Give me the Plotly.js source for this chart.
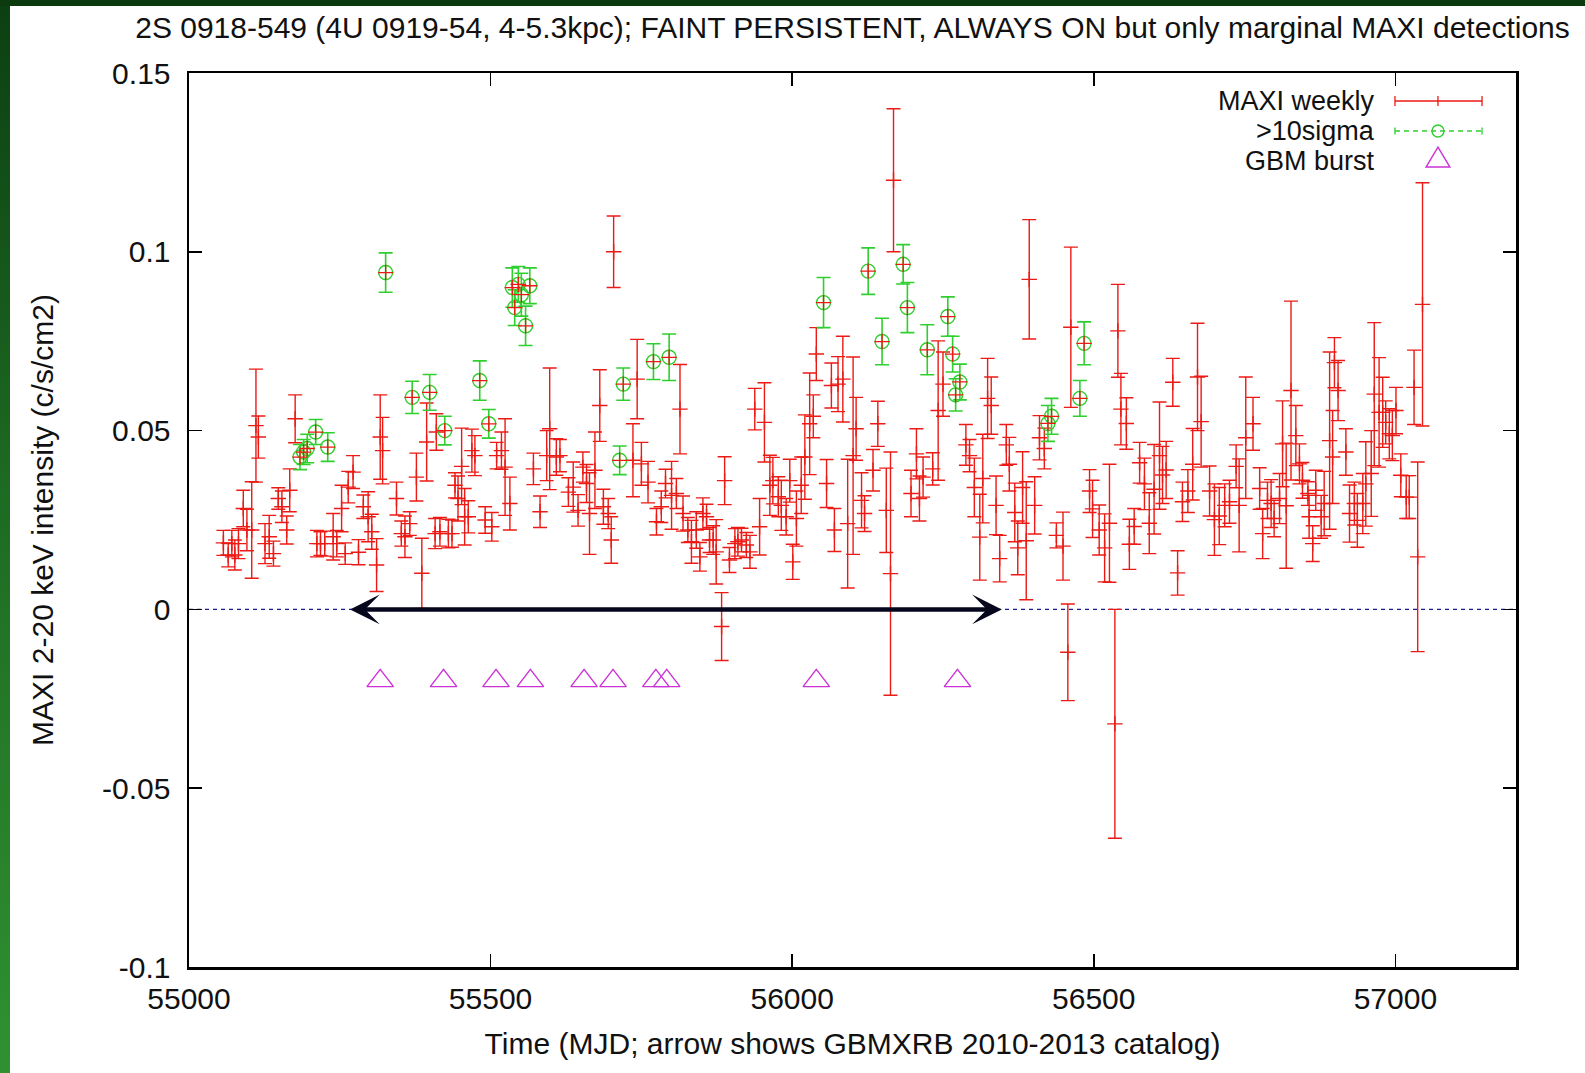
<!DOCTYPE html>
<html>
<head>
<meta charset="utf-8">
<script src="https://cdn.plot.ly/plotly-3.0.1.min.js"></script>
<style>
html,body{margin:0;padding:0;background:#ffffff;}
#chart{width:1585px;height:1073px;
background:
 linear-gradient(#0a3a0e,#0a3a0e) 0 0/100% 6px no-repeat,
 linear-gradient(to bottom,#0c3f12 0%,#1d6a22 45%,#2f9131 100%) 0 0/10px 100% no-repeat,
 #ffffff;}
</style>
</head>
<body>
<div id="chart"></div>
<script>
// ---- MAXI weekly light curve (MJD, intensity c/s/cm2, 1-sigma error) ----
const redMJD = [55057,55065,55071,55076,55082,55090,55096,55104,55111,55115,55126,55133,55140,55148,55154,55162,55167,55176,
55212,55218,55225,55239,55245,55253,55259,55264,55272,55281,55289,55297,55303,55311,55317,55321,
55344,55352,55358,55366,55377,55386,55394,55408,55410,55416,55430,55436,55441,55446,55452,55457,55463,55469,55474,
55491,55502,55510,55518,55524,55532,55571,55582,55593,55598,55609,55615,55629,55637,55645,55653,55659,55664,55673,55681,
55687,55695,55700,55704,55736,55743,55750,55761,55775,55783,55790,55800,55808,55814,55819,55827,55833,55841,55847,55852,
55858,55863,55869,55874,55883,55888,55896,55905,55910,55916,55924,55930,55938,55946,55954,55963,55968,55977,55982,55990,
55996,56001,56007,56015,56021,56029,56035,56040,56057,56065,56070,56076,56084,56092,56101,56106,56115,56120,56134,56142,
56156,56163,56168,56197,56206,56211,56217,56233,56242,56250,56288,56294,56302,56311,56316,56324,56330,56338,56344,56355,
56360,56369,56374,56382,56388,56393,56402,56410,56418,56438,56449,56457,56462,56493,56498,56509,56518,56526,56535,56540,
56545,56554,56559,56567,56576,56584,56592,56600,56609,56614,56620,56631,56639,56647,56656,56664,56672,56678,56692,56700,
56708,56717,56725,56736,56741,56752,56764,56775,56780,56788,56794,56799,56808,56813,56819,56827,56835,56841,56846,56855,
56857,56863,56868,56877,56882,56891,56896,56899,56905,56918,56924,56932,56937,56946,56951,56960,56965,56973,56979,56984,
56990,56995,57001,57009,57018,57023,57031,57037,57045];
const redFlux = [0.0186,0.0152,0.0184,0.0152,0.0184,0.0282,0.0222,0.0222,0.0514,0.0482,0.0184,0.0203,0.0156,0.0310,0.0287,0.0222,0.0333,0.0533,
0.0184,0.0184,0.0184,0.0203,0.0184,0.0282,0.0156,0.0342,0.0384,0.0160,0.0287,0.0259,0.0217,0.0124,0.0482,0.0444,
0.0310,0.0212,0.0203,0.0240,0.0370,0.0101,0.0468,0.0212,0.0496,0.0217,0.0212,0.0212,0.0347,0.0310,0.0400,0.0259,0.0259,0.0444,0.0430,
0.0250,0.0231,0.0430,0.0444,0.0398,0.0296,0.0393,0.0273,0.0430,0.0505,0.0426,0.0430,0.0328,0.0342,0.0277,0.0398,0.0352,0.0268,0.0389,0.0570,
0.0287,0.0268,0.0194,0.1000,0.0417,0.0644,0.0407,0.0356,0.0245,0.0287,0.0352,0.0319,0.0324,0.0560,0.0268,0.0222,0.0189,0.0222,0.0147,0.0268,
0.0259,0.0194,0.0194,0.0161,-0.0048,0.0360,0.0138,0.0184,0.0189,0.0194,0.0180,0.0161,0.0560,0.0231,0.0523,0.0347,0.0360,0.0315,0.0291,0.0259,
0.0360,0.0133,0.0254,0.0347,0.0426,0.0519,0.0540,0.0714,0.0352,0.0626,0.0222,0.0630,0.0644,0.0240,0.0430,0.0505,0.0305,0.0268,0.0389,0.0519,
0.0277,0.0100,0.1200,0.0324,0.0435,0.0310,0.0370,0.0393,0.0556,0.0630,0.0460,0.0430,0.0341,0.0202,0.0366,0.0590,0.0570,0.0291,0.0142,0.0460,
0.0406,0.0271,0.0172,0.0341,0.0192,0.0923,0.0291,0.0480,0.0450,0.0207,0.0177,-0.0120,0.0789,0.0331,0.0281,0.0222,0.0172,0.0241,-0.0320,0.0779,
0.0560,0.0520,0.0182,0.0232,0.0410,0.0351,0.0241,0.0336,0.0430,0.0376,0.0390,0.0635,0.0102,0.0301,0.0331,0.0406,0.0650,0.0525,0.0331,0.0251,
0.0261,0.0291,0.0301,0.0400,0.0291,0.0480,0.0519,0.0338,0.0212,0.0305,0.0296,0.0254,0.0310,0.0463,0.0290,0.0612,0.0486,0.0407,0.0361,0.0324,
0.0259,0.0184,0.0333,0.0259,0.0296,0.0472,0.0426,0.0690,0.0612,0.0440,0.0268,0.0296,0.0249,0.0296,0.0351,0.0380,0.0602,0.0551,0.0551,0.0523,
0.0491,0.0486,0.0556,0.0375,0.0314,0.0314,0.0621,0.0147,0.0853];
const redErr = [0.0035,0.0033,0.0037,0.0042,0.0042,0.0051,0.0058,0.0135,0.0158,0.0059,0.0056,0.0060,0.0035,0.0030,0.0044,0.0039,0.0060,0.0067,
0.0037,0.0033,0.0035,0.0065,0.0037,0.0065,0.0030,0.0044,0.0046,0.0035,0.0033,0.0070,0.0049,0.0074,0.0118,0.0093,
0.0046,0.0035,0.0058,0.0033,0.0067,0.0098,0.0109,0.0042,0.0051,0.0040,0.0040,0.0038,0.0035,0.0063,0.0107,0.0079,0.0045,0.0060,0.0056,
0.0037,0.0040,0.0037,0.0052,0.0135,0.0074,0.0044,0.0044,0.0070,0.0170,0.0051,0.0045,0.0040,0.0070,0.0044,0.0042,0.0053,0.0114,0.0107,0.0100,
0.0049,0.0042,0.0065,0.0100,0.0102,0.0111,0.0060,0.0058,0.0037,0.0044,0.0040,0.0095,0.0042,0.0125,0.0049,0.0035,0.0060,0.0051,0.0040,0.0044,
0.0035,0.0035,0.0040,0.0090,0.0095,0.0067,0.0035,0.0042,0.0040,0.0033,0.0035,0.0046,0.0058,0.0079,0.0111,0.0084,0.0065,0.0056,0.0070,0.0051,
0.0060,0.0049,0.0077,0.0079,0.0118,0.0142,0.0060,0.0074,0.0067,0.0063,0.0060,0.0077,0.0120,0.0180,0.0276,0.0088,0.0077,0.0050,0.0058,0.0063,
0.0118,0.0340,0.0200,0.0065,0.0070,0.0063,0.0056,0.0045,0.0195,0.0090,0.0057,0.0045,0.0082,0.0120,0.0124,0.0112,0.0080,0.0082,0.0065,0.0057,
0.0075,0.0082,0.0075,0.0100,0.0165,0.0167,0.0080,0.0062,0.0057,0.0035,0.0095,0.0135,0.0224,0.0060,0.0080,0.0070,0.0095,0.0165,0.0320,0.0130,
0.0100,0.0072,0.0070,0.0050,0.0057,0.0072,0.0085,0.0125,0.0150,0.0080,0.0080,0.0067,0.0062,0.0055,0.0060,0.0100,0.0150,0.0127,0.0070,0.0100,
0.0080,0.0060,0.0060,0.0060,0.0130,0.0170,0.0074,0.0058,0.0070,0.0051,0.0067,0.0051,0.0070,0.0120,0.0175,0.0250,0.0084,0.0056,0.0050,0.0033,
0.0060,0.0050,0.0056,0.0060,0.0090,0.0248,0.0130,0.0070,0.0084,0.0065,0.0080,0.0060,0.0075,0.0084,0.0118,0.0120,0.0200,0.0153,0.0098,0.0060,
0.0070,0.0070,0.0065,0.0060,0.0060,0.0060,0.0104,0.0265,0.0340];

// ---- >10 sigma weekly detections ----
const sigMJD = [55184,55190,55196,55210,55230,55326,55370,55399,55424,55482,55497,55536,55540,55546,55551,55558,55565,
55714,55720,55770,55796,56052,56126,56149,56184,56191,56224,56258,56266,56271,56278,56424,56430,56477,56484];
const sigFlux = [0.0426,0.0440,0.0450,0.0496,0.0454,0.0942,0.0593,0.0607,0.0500,0.0640,0.0519,0.0900,0.0844,0.0909,0.0880,0.0793,0.0905,
0.0417,0.0630,0.0693,0.0705,0.0858,0.0946,0.0749,0.0965,0.0844,0.0726,0.0819,0.0714,0.0600,0.0636,0.0520,0.0540,0.0590,0.0744];
const sigErr = [0.0035,0.0035,0.0040,0.0035,0.0040,0.0055,0.0045,0.0050,0.0040,0.0055,0.0040,0.0055,0.0050,0.0050,0.0060,0.0055,0.0050,
0.0040,0.0045,0.0050,0.0065,0.0070,0.0065,0.0065,0.0055,0.0070,0.0070,0.0055,0.0050,0.0045,0.0050,0.0050,0.0050,0.0050,0.0060];

// ---- GBM bursts ----
const gbmMJD = [55317,55422,55509,55566,55655,55703,55774,55792,56040,56274];
const gbmLevel = [-0.02,-0.02,-0.02,-0.02,-0.02,-0.02,-0.02,-0.02,-0.02,-0.02];

// ---- GBMXRB catalog span (arrow) ----
const catalogSpan = [55267, 56350];

// ---- axes ----
const xRange = [55000, 57200];
const yRange = [-0.1, 0.15];
const xTickVals = [55000, 55500, 56000, 56500, 57000];
const xTickText = ['55000', '55500', '56000', '56500', '57000'];
const yTickVals = [-0.1, -0.05, 0, 0.05, 0.1, 0.15];
const yTickText = ['-0.1', '-0.05', '0', '0.05', '0.1', '0.15'];

const legendNames = ['MAXI weekly', '>10sigma', 'GBM burst'];

const RED = '#ec1a14';
const GREEN = '#2fcf2f';
const MAG = '#cc33d6';
const FONT = 'Liberation Sans, Arial, Helvetica, sans-serif';
const FS = 30;
const LFS = 27;

const traces = [
  {
    type: 'scatter', mode: 'markers', name: legendNames[0],
    x: redMJD, y: redFlux,
    error_y: {type: 'data', array: redErr, visible: true, color: RED, thickness: 1.4, width: 7},
    marker: {symbol: 'cross-thin', size: 11, color: RED, line: {color: RED, width: 1.4}},
    showlegend: false, hoverinfo: 'x+y'
  },
  {
    type: 'scatter', mode: 'markers', name: legendNames[1],
    x: sigMJD, y: sigFlux,
    error_y: {type: 'data', array: sigErr, visible: true, color: GREEN, thickness: 1.6, width: 7},
    marker: {symbol: 'circle-open', size: 14, color: GREEN, line: {color: GREEN, width: 1.4}},
    showlegend: false, hoverinfo: 'x+y'
  },
  {
    type: 'scatter', mode: 'markers', name: legendNames[0],
    x: sigMJD, y: sigFlux,
    marker: {symbol: 'cross-thin', size: 11, color: RED, line: {color: RED, width: 1.3}},
    showlegend: false, hoverinfo: 'skip'
  },
  {
    type: 'scatter', mode: 'markers', name: legendNames[2],
    x: gbmMJD, y: gbmLevel,
    marker: {symbol: 'triangle-up-open', size: 23, color: MAG, line: {color: MAG, width: 1.4}},
    showlegend: false, hoverinfo: 'x'
  }
];

// legend geometry (paper units)
const LX0 = 0.9088, LX1 = 0.9744, LXM = 0.9412, LXT = 0.8953;
const LY = [0.9687, 0.9351, 0.9016];
const TRI_Y = 0.9060;
const capY = 0.0056, circX = 0.0045, circY = 0.0067, triX = 0.0090, triY = 0.0112;

const shapes = [
  // dashed zero line
  {type: 'line', xref: 'paper', x0: 0, x1: 1, yref: 'y', y0: 0, y1: 0,
   line: {color: '#1c1c8a', width: 1.3, dash: '4px,4px'}, layer: 'below'},
  // legend: MAXI weekly sample
  {type: 'line', xref: 'paper', yref: 'paper', x0: LX0, x1: LX1, y0: LY[0], y1: LY[0], line: {color: RED, width: 1.3}},
  {type: 'line', xref: 'paper', yref: 'paper', x0: LX0, x1: LX0, y0: LY[0]-capY, y1: LY[0]+capY, line: {color: RED, width: 1.3}},
  {type: 'line', xref: 'paper', yref: 'paper', x0: LX1, x1: LX1, y0: LY[0]-capY, y1: LY[0]+capY, line: {color: RED, width: 1.3}},
  {type: 'line', xref: 'paper', yref: 'paper', x0: LXM, x1: LXM, y0: LY[0]-capY, y1: LY[0]+capY, line: {color: RED, width: 1.3}},
  // legend: >10sigma sample
  {type: 'line', xref: 'paper', yref: 'paper', x0: LX0, x1: LX1, y0: LY[1], y1: LY[1], line: {color: GREEN, width: 1.3, dash: '5px,4px'}},
  {type: 'line', xref: 'paper', yref: 'paper', x0: LX0, x1: LX0, y0: LY[1]-capY*0.7, y1: LY[1]+capY*0.7, line: {color: GREEN, width: 1.3}},
  {type: 'line', xref: 'paper', yref: 'paper', x0: LX1, x1: LX1, y0: LY[1]-capY*0.7, y1: LY[1]+capY*0.7, line: {color: GREEN, width: 1.3}},
  {type: 'circle', xref: 'paper', yref: 'paper', x0: LXM-circX, x1: LXM+circX, y0: LY[1]-circY, y1: LY[1]+circY, line: {color: GREEN, width: 1.4}, fillcolor: 'rgba(0,0,0,0)'},
  // legend: GBM burst sample
  {type: 'path', xref: 'paper', yref: 'paper',
   path: 'M ' + (LXM-triX) + ' ' + (TRI_Y-triY) + ' L ' + (LXM+triX) + ' ' + (TRI_Y-triY) + ' L ' + LXM + ' ' + (TRI_Y+triY) + ' Z',
   line: {color: MAG, width: 1.4}, fillcolor: 'rgba(0,0,0,0)'}
];

const annotations = [
  {x: catalogSpan[0], y: 0, ax: catalogSpan[1], ay: 0, xref: 'x', yref: 'y', axref: 'x', ayref: 'y',
   text: '', showarrow: true, arrowside: 'end+start', arrowhead: 3, arrowsize: 1.1, arrowwidth: 4.5,
   arrowcolor: '#06061c', standoff: 0, startstandoff: 0},
  {xref: 'paper', yref: 'paper', x: LXT, y: LY[0], xanchor: 'right', yanchor: 'middle', showarrow: false,
   text: legendNames[0], font: {family: FONT, size: LFS, color: '#111'}},
  {xref: 'paper', yref: 'paper', x: LXT, y: LY[1], xanchor: 'right', yanchor: 'middle', showarrow: false,
   text: '&gt;10sigma', font: {family: FONT, size: LFS, color: '#111'}},
  {xref: 'paper', yref: 'paper', x: LXT, y: LY[2], xanchor: 'right', yanchor: 'middle', showarrow: false,
   text: legendNames[2], font: {family: FONT, size: LFS, color: '#111'}}
];

const axisCommon = {
  showline: true, linecolor: '#000', linewidth: 2.5, mirror: 'ticks',
  ticks: 'inside', ticklen: 13, tickwidth: 1.6, tickcolor: '#000',
  showgrid: false, zeroline: false, tickmode: 'array',
  tickfont: {family: FONT, size: FS, color: '#111'}
};

const layout = {
  width: 1585, height: 1073,
  margin: {l: 189, r: 69, t: 73, b: 106, pad: 0},
  paper_bgcolor: 'rgba(0,0,0,0)', plot_bgcolor: '#ffffff',
  font: {family: FONT, size: FS, color: '#111'},
  showlegend: false,
  title: {text: '2S 0918-549 (4U 0919-54, 4-5.3kpc); FAINT PERSISTENT, ALWAYS ON but only marginal MAXI detections',
          x: 0.5, xref: 'paper', xanchor: 'center', y: 0.9748, yref: 'container', yanchor: 'middle',
          font: {family: FONT, size: FS, color: '#111'}},
  xaxis: Object.assign({}, axisCommon, {
    range: xRange, tickvals: xTickVals, ticktext: xTickText, ticklabelstandoff: 3,
    title: {text: 'Time (MJD; arrow shows GBMXRB 2010-2013 catalog)', font: {family: FONT, size: FS, color: '#111'}, standoff: 20}
  }),
  yaxis: Object.assign({}, axisCommon, {
    range: yRange, tickvals: yTickVals, ticktext: yTickText, ticklabelstandoff: 10,
    title: {text: 'MAXI 2-20 keV intensity (c/s/cm2)', font: {family: FONT, size: FS, color: '#111'}, standoff: 40}
  }),
  shapes: shapes,
  annotations: annotations
};

Plotly.newPlot('chart', traces, layout, {displayModeBar: false, staticPlot: true});
</script>
</body>
</html>
